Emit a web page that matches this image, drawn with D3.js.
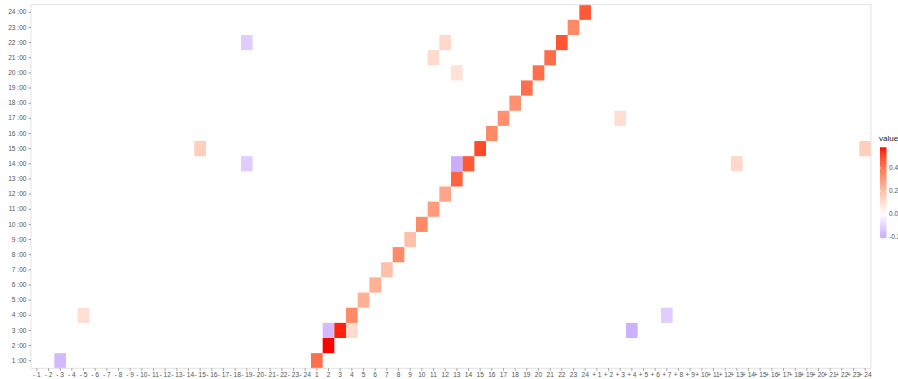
<!DOCTYPE html>
<html><head><meta charset="utf-8">
<script src="https://cdn.jsdelivr.net/npm/d3@7"></script>
<style>body{margin:0;background:#fff}svg{display:block}text{font-family:"Liberation Sans",Arial,sans-serif}</style>
</head><body><svg id="c" width="898" height="379"></svg>
<script>
const xCats = [];
for (let i = 1; i <= 24; i++) xCats.push("- " + i);
for (let i = 1; i <= 24; i++) xCats.push(String(i));
for (let i = 1; i <= 24; i++) xCats.push("+ " + i);
const yCats = d3.range(1, 25).map(h => h + " :00");
const legendTicks = [-0.2, 0.0, 0.2, 0.4];
const valueRange = [-0.21, 0.58];

const cellCol = ["- 3","- 5","- 15","- 19","- 19",
  "1","2","2","3","4","4","5","6","7","8","9","10","11","12","13","13","14","15","16","17","18","19","20","21","22","23","24",
  "11","12","13",
  "+ 3","+ 4","+ 7","+ 13","+ 24"];
const cellRow = ["1 :00","4 :00","15 :00","22 :00","14 :00",
  "1 :00","2 :00","3 :00","3 :00","3 :00","4 :00","5 :00","6 :00","7 :00","8 :00","9 :00","10 :00","11 :00","12 :00","13 :00","14 :00","14 :00","15 :00","16 :00","17 :00","18 :00","19 :00","20 :00","21 :00","22 :00","23 :00","24 :00",
  "21 :00","22 :00","20 :00",
  "17 :00","3 :00","4 :00","14 :00","15 :00"];
const cellValue = [-0.17, 0.10, 0.15, -0.12, -0.12,
  0.42, 0.58, -0.17, 0.56, 0.11, 0.35, 0.24, 0.24, 0.19, 0.35, 0.19, 0.35, 0.30, 0.27, 0.45, -0.20, 0.47, 0.50, 0.35, 0.33, 0.33, 0.42, 0.42, 0.42, 0.48, 0.35, 0.47,
  0.11, 0.12, 0.09,
  0.10, -0.19, -0.12, 0.12, 0.15];

const svg = d3.select("#c");
const L = 31, R = 871, T = 4.7, B = 368.3;
const x = d3.scaleBand().domain(xCats).range([L, R]);
const y = d3.scaleBand().domain(yCats).range([B, T]);
const M = 0.58;
const color = v => v >= 0 ? d3.interpolateLab("#ffffff", "#ff0000")(Math.min(1, v / M))
                          : d3.interpolateLab("#ffffff", "#0000ff")(Math.min(1, -v / M));

svg.append("rect").attr("x", L).attr("y", T).attr("width", R - L).attr("height", B - T)
  .attr("fill", "#fff");

svg.append("g").selectAll("rect").data(cellValue.map((v, i) => ({c: cellCol[i], r: cellRow[i], v})))
  .join("rect")
  .attr("x", d => x(d.c)).attr("y", d => y(d.r))
  .attr("width", x.bandwidth()).attr("height", y.bandwidth())
  .attr("fill", d => color(d.v));

svg.append("rect").attr("x", L).attr("y", T).attr("width", R - L).attr("height", B - T)
  .attr("fill", "none").attr("stroke", "#e3e3e3").attr("stroke-width", 1);

const xa = svg.append("g").attr("transform", `translate(0,${B})`)
  .call(d3.axisBottom(x).tickSize(2.5).tickPadding(1.5));
const ya = svg.append("g").attr("transform", `translate(${L},0)`)
  .call(d3.axisLeft(y).tickSize(2.5).tickPadding(2));
[xa, ya].forEach(a => {
  a.select(".domain").remove();
  a.selectAll(".tick line").attr("stroke", "#444").attr("stroke-width", 0.5);
  a.selectAll(".tick text").attr("fill", "#555").attr("font-size", 6.6)
    .attr("font-family", "Liberation Sans, Arial, sans-serif");
});

// legend
const ly = d3.scaleLinear().domain([0, 0.4]).range([214, 168]);
const lx = 880, lw = 6.5;
const defs = svg.append("defs");
const grad = defs.append("linearGradient").attr("id", "lg").attr("x1", 0).attr("x2", 0).attr("y1", 1).attr("y2", 0);
d3.range(0, 21).forEach(k => {
  const v = valueRange[0] + (valueRange[1] - valueRange[0]) * k / 20;
  grad.append("stop").attr("offset", k / 20).attr("stop-color", color(v));
});
svg.append("rect").attr("x", lx).attr("y", ly(valueRange[1])).attr("width", lw)
  .attr("height", ly(valueRange[0]) - ly(valueRange[1])).attr("fill", "url(#lg)");
svg.append("text").attr("x", lx - 1).attr("y", 141).attr("font-size", 8).attr("fill", "#222").text("value");
legendTicks.forEach(t => {
  svg.append("line").attr("x1", lx).attr("x2", lx + 1.3).attr("y1", ly(t)).attr("y2", ly(t)).attr("stroke", "#fff").attr("stroke-width", 0.6);
  svg.append("line").attr("x1", lx + lw - 1.3).attr("x2", lx + lw).attr("y1", ly(t)).attr("y2", ly(t)).attr("stroke", "#fff").attr("stroke-width", 0.6);
  svg.append("text").attr("x", lx + lw + 2.5).attr("y", ly(t)).attr("dy", "0.35em")
    .attr("font-size", 6.6).attr("fill", "#555").text(t.toFixed(1));
});
</script></body></html>
